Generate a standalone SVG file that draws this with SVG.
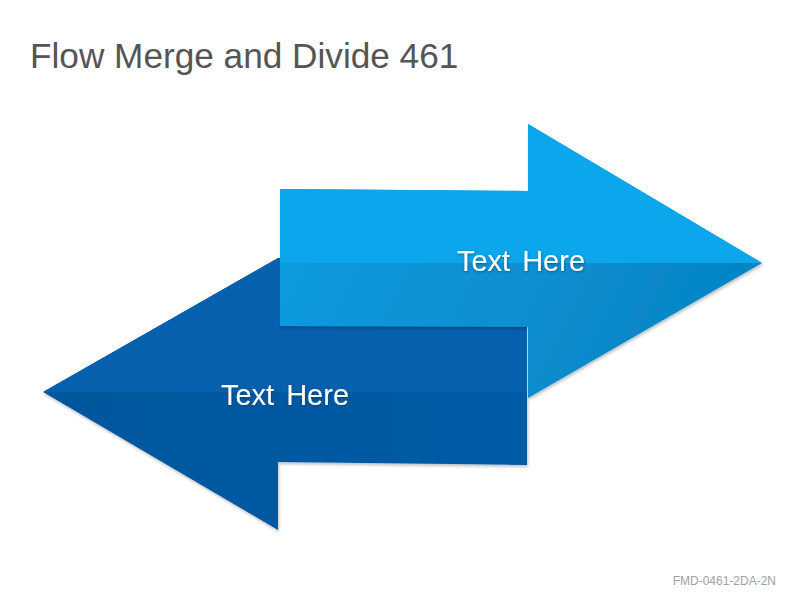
<svg xmlns="http://www.w3.org/2000/svg" width="800" height="600" viewBox="0 0 800 600">
  <defs>
    <filter id="shadow" x="-10%" y="-10%" width="120%" height="120%">
      <feDropShadow dx="1" dy="2" stdDeviation="1.5" flood-color="#000" flood-opacity="0.25"/>
    </filter>
    <filter id="tshadow" x="-10%" y="-20%" width="120%" height="150%">
      <feDropShadow dx="0.5" dy="1" stdDeviation="1" flood-color="#003050" flood-opacity="0.6"/>
    </filter>
    <linearGradient id="lightLow" x1="0" y1="0" x2="1" y2="0.3">
      <stop offset="0" stop-color="#0A9EE4"/>
      <stop offset="1" stop-color="#0686C6"/>
    </linearGradient>
    <linearGradient id="darkLow" x1="0" y1="0" x2="1" y2="0">
      <stop offset="0" stop-color="#05579D"/>
      <stop offset="1" stop-color="#065BA6"/>
    </linearGradient>
  </defs>
  <style>
    .title { font-family: "Liberation Sans", Arial, sans-serif; font-size: 35.2px; fill: #555555; }
    .label { font-family: "Liberation Sans", Arial, sans-serif; font-size: 29px; fill: #FFFFFF; text-anchor: middle; word-spacing: 4px; }
    .code { font-family: "Liberation Sans", Arial, sans-serif; font-size: 12px; fill: #A0A0A0; text-anchor: end; }
  </style>
  <rect width="800" height="600" fill="#FFFFFF"/>
  <text class="title" x="30" y="68">Flow Merge and Divide 461</text>

  <g id="connectors"></g>

  <g id="arrow-left">
    <polygon points="43,392 278,258 300,258 300,326 527,326 527,465 278,462 278,530" fill="url(#darkLow)" filter="url(#shadow)"/>
    <polygon points="43,392 278,258 300,258 300,326 527,326 527,392" fill="#0660AE"/>
    <text class="label" x="285" y="405" filter="url(#tshadow)">Text Here</text>
  </g>

  <g id="arrow-right">
    <polygon points="280,189 528,191 528,124 762,263 528,398 528,327 280,326" fill="url(#lightLow)" filter="url(#shadow)"/>
    <polygon points="280,189 528,191 528,124 762,263 280,263" fill="#0BA6EC"/>
    <text class="label" x="521" y="271" filter="url(#tshadow)">Text Here</text>
  </g>

  <text class="code" x="776" y="585">FMD-0461-2DA-2N</text>
</svg>
